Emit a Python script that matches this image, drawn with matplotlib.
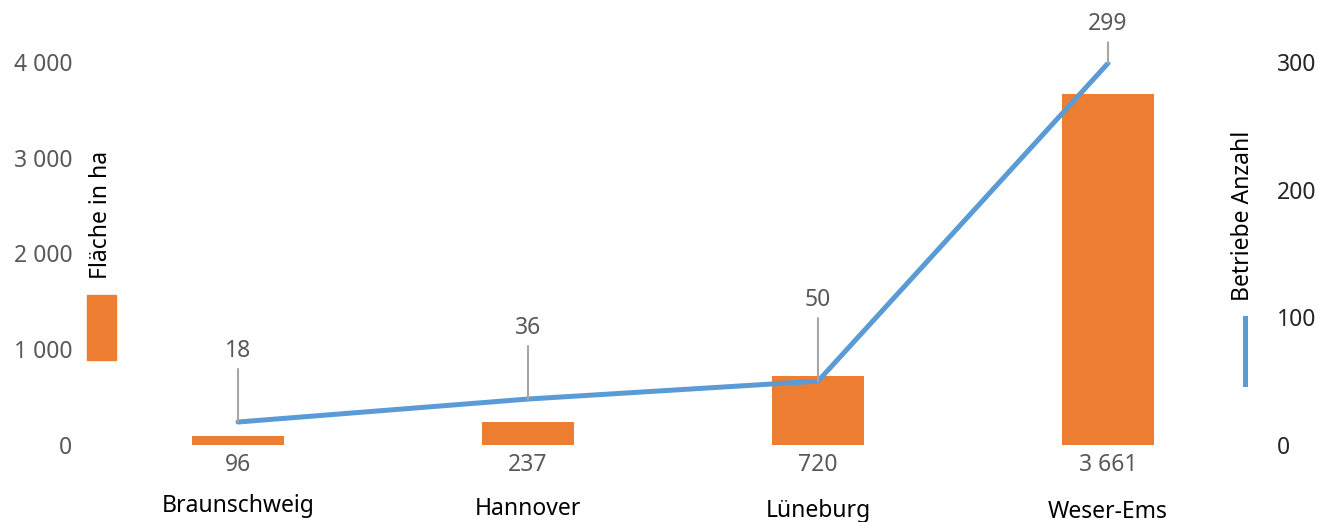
import matplotlib.pyplot as plt
from matplotlib.ticker import FuncFormatter

# Values
REGIONS = ["Braunschweig", "Hannover", "Lüneburg", "Weser-Ems"]
FLAECHE_HA = [96, 237, 720, 3661]
BETRIEBE = [18, 36, 50, 299]
LEFT_TICKS = [0, 1000, 2000, 3000, 4000]
RIGHT_TICKS = [0, 100, 200, 300]

ORANGE = "#ED7D31"
BLUE = "#5B9BD5"
GREY_TXT = "#595959"
LEADER = "#A6A6A6"
FS = 16.5

# layout only: pixel offsets for the line labels and staggered category labels
label_offset = [71, 71, 81, 39]
cat_drop = [0, 3, 5, 6]

plt.rcParams["font.family"] = ["Noto Sans", "DejaVu Sans"]


def thousands(v, pos=None):
	return f"{int(v):,}".replace(",", " ")


fig = plt.figure(figsize=(13.18, 5.22), dpi=100)
ax = fig.add_axes([93 / 1318, 77 / 522, 1160 / 1318, 383 / 522])
ax2 = ax.twinx()

x = list(range(len(REGIONS)))
ax.bar(x, FLAECHE_HA, width=0.315, color=ORANGE, zorder=2)
ax.set_xlim(-0.5, len(REGIONS) - 0.5)
ax.set_ylim(0, 4000)
ax.set_yticks(LEFT_TICKS)
ax.yaxis.set_major_formatter(FuncFormatter(thousands))
ax.tick_params(axis="y", length=0, pad=15, labelsize=FS, labelcolor=GREY_TXT)
ax.set_xticks([])

ax2.plot(x, BETRIEBE, color=BLUE, linewidth=3.6, solid_capstyle="round", zorder=3)
ax2.set_ylim(0, 300)
ax2.set_yticks(RIGHT_TICKS)
ax2.tick_params(axis="y", length=0, pad=17, labelsize=FS, labelcolor="#262626")

for a in (ax, ax2):
	for s in a.spines.values():
		s.set_visible(False)

# bar values below the bars, region names below them
for i, v in enumerate(FLAECHE_HA):
	ax.annotate(thousands(v), xy=(i, 0), xytext=(0, -20), textcoords="offset pixels",
				ha="center", va="center", fontsize=FS, color=GREY_TXT)
	ax.annotate(REGIONS[i], xy=(i, 0), xytext=(0, -61 - cat_drop[i]), textcoords="offset pixels",
				ha="center", va="center", fontsize=FS, color="black")

# line values with grey leader lines
for i, v in enumerate(BETRIEBE):
	off = label_offset[i]
	ax2.annotate("", xy=(i, v), xytext=(0, off - 18), textcoords="offset pixels",
				 arrowprops=dict(arrowstyle="-", color=LEADER, lw=1.5, shrinkA=0, shrinkB=0),
				 annotation_clip=False)
	ax2.annotate(str(v), xy=(i, v), xytext=(0, off), textcoords="offset pixels",
				 ha="center", va="center", fontsize=FS, color=GREY_TXT, annotation_clip=False)

# axis "legends" drawn as in the original
fig.patches.append(plt.Rectangle((87 / 1318, (522 - 360) / 522), 29 / 1318, 65 / 522,
								 transform=fig.transFigure, color=ORANGE))
fig.text(101 / 1318, (522 - 215) / 522, "Fläche in ha", rotation=90, ha="center", va="center",
		 fontsize=FS, color="black")
fig.lines.append(plt.Line2D([1245 / 1318, 1245 / 1318], [(522 - 384) / 522, (522 - 318) / 522],
							transform=fig.transFigure, color=BLUE, linewidth=3.6))
fig.text(1243 / 1318, (522 - 216) / 522, "Betriebe Anzahl", rotation=90, ha="center", va="center",
		 fontsize=FS, color="black")

fig.savefig("out.png", dpi=100)
